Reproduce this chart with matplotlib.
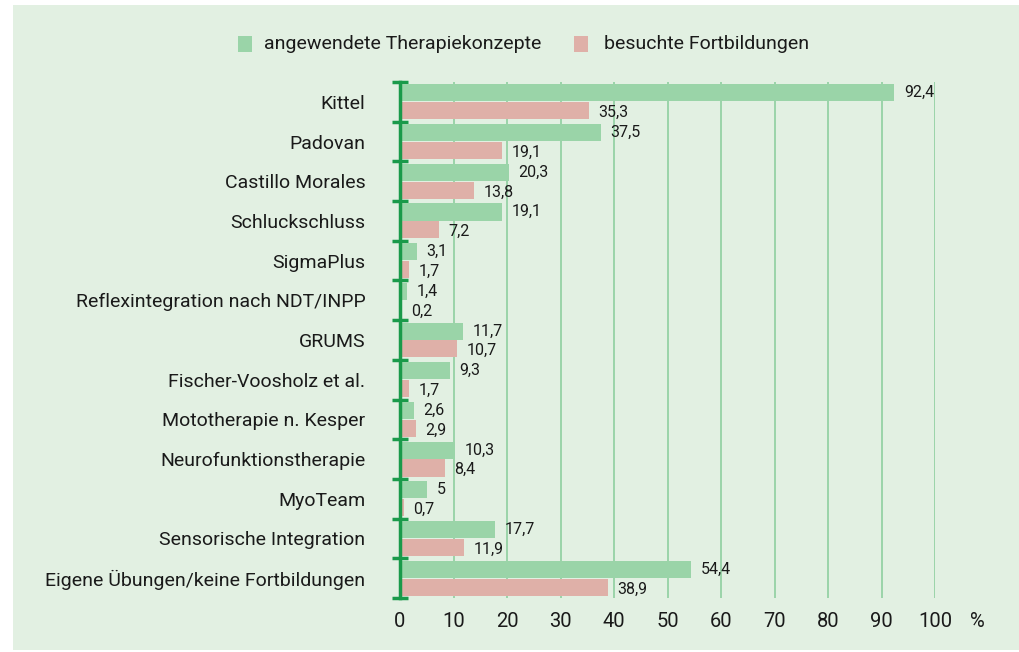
import numpy as np
import matplotlib.pyplot as plt
from matplotlib.patches import Rectangle

plt.rcParams["font.family"] = ["Liberation Sans Narrow", "DejaVu Sans Condensed", "Roboto", "DejaVu Sans"]

categories = [
    "Kittel",
    "Padovan",
    "Castillo Morales",
    "Schluckschluss",
    "SigmaPlus",
    "Reflexintegration nach NDT/INPP",
    "GRUMS",
    "Fischer-Voosholz et al.",
    "Mototherapie n. Kesper",
    "Neurofunktionstherapie",
    "MyoTeam",
    "Sensorische Integration",
    "Eigene Übungen/keine Fortbildungen",
]
therapie = [92.4, 37.5, 20.3, 19.1, 3.1, 1.4, 11.7, 9.3, 2.6, 10.3, 5.0, 17.7, 54.4]
fortbildung = [35.3, 19.1, 13.8, 7.2, 1.7, 0.2, 10.7, 1.7, 2.9, 8.4, 0.7, 11.9, 38.9]
x_ticks = [0, 10, 20, 30, 40, 50, 60, 70, 80, 90, 100]

GREEN = "#9ad4a8"
PINK = "#dfb0a8"
DARK = "#1a9a4a"
GRID = "#8fcf9f"
BG = "#e2f0e2"
TXT = "#1a1a1a"


def fmt(v):
    return f"{v:g}".replace(".", ",")


fig = plt.figure(figsize=(10.19, 6.52), dpi=100, facecolor="white")
fig.patches.append(Rectangle((13 / 1019, 0.003), 1 - 13 / 1019, 1 - 5 / 652 - 0.003,
                             transform=fig.transFigure, facecolor=BG, edgecolor="none", zorder=-5))

ax = fig.add_axes([400 / 1019, 54 / 652, 535 / 1019, 516 / 652])
ax.set_facecolor("none")

y = np.arange(len(categories))
h = 0.43
ax.barh(y - 0.225, therapie, height=h, color=GREEN, zorder=2)
ax.barh(y + 0.225, fortbildung, height=h, color=PINK, zorder=2)

for i in range(len(categories)):
    ax.text(therapie[i] + 1.8, y[i] - 0.23, fmt(therapie[i]), va="center", ha="left",
            fontsize=11.5, color=TXT, zorder=3)
    ax.text(fortbildung[i] + 1.8, y[i] + 0.27, fmt(fortbildung[i]), va="center", ha="left",
            fontsize=11.5, color=TXT, zorder=3)

ax.set_xlim(0, 100)
ax.set_ylim(len(categories) - 0.5, -0.5)

for gx in x_ticks[1:]:
    ax.axvline(gx, color=GRID, lw=1.2, zorder=1)

for s in ["top", "right", "bottom"]:
    ax.spines[s].set_visible(False)
ax.spines["left"].set_color(DARK)
ax.spines["left"].set_linewidth(2.5)
ax.spines["left"].set_zorder(4)

ax.set_yticks(np.arange(-0.5, len(categories), 1.0))
ax.set_yticklabels([])
ax.tick_params(axis="y", which="major", direction="inout", length=12, width=2.5, color=DARK)
ax.set_yticks(y, minor=True)
ax.set_yticklabels(categories, minor=True, fontsize=14, color=TXT)
ax.tick_params(axis="y", which="minor", length=0, pad=25)

ax.set_xticks(x_ticks)
ax.set_xticklabels([str(t) for t in x_ticks], fontsize=14.5, color=TXT)
ax.tick_params(axis="x", length=0, pad=10)
ax.annotate("%", xy=(108, 0), xycoords=("data", "axes fraction"), xytext=(0, -10),
            textcoords="offset points", ha="center", va="top", fontsize=14.5, color=TXT)

# legend
fig.patches.append(Rectangle((238 / 1019, 1 - 52 / 652), 14 / 1019, 16 / 652,
                             transform=fig.transFigure, facecolor=GREEN, edgecolor="none"))
fig.text(264 / 1019, 1 - 44 / 652, "angewendete Therapiekonzepte", va="center", ha="left",
         fontsize=14, color=TXT)
fig.patches.append(Rectangle((574 / 1019, 1 - 52 / 652), 14 / 1019, 16 / 652,
                             transform=fig.transFigure, facecolor=PINK, edgecolor="none"))
fig.text(604 / 1019, 1 - 44 / 652, "besuchte Fortbildungen", va="center", ha="left",
         fontsize=14, color=TXT)

fig.savefig("out.png", dpi=100, facecolor="white")
